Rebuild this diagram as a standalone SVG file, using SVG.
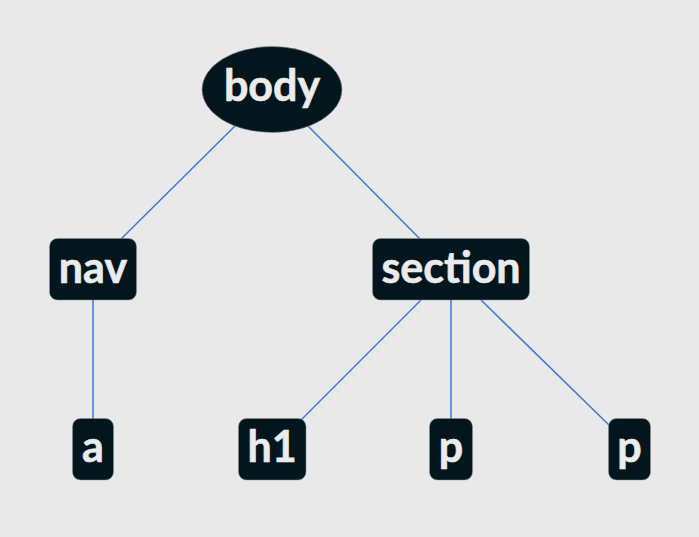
<svg xmlns="http://www.w3.org/2000/svg" width="699" height="537" viewBox="0 0 699 537">
<style>
.n{fill:#03161e;stroke:#8a9396;stroke-width:1;stroke-opacity:0.5}
.t{font-family:Lato,"Noto Sans",sans-serif;font-weight:bold;font-size:43px;fill:#ebebeb;stroke:#ebebeb;stroke-width:0.6;text-anchor:middle}
.e{stroke:#3a78e0;stroke-width:1.5;fill:none}
</style>
<rect width="699" height="537" fill="#e9e9e9"/>
<g id="edges">
<line class="e" x1="236" y1="125" x2="120" y2="240"/>
<line class="e" x1="307" y1="125" x2="421" y2="240"/>
<line class="e" x1="93" y1="300" x2="93" y2="419"/>
<line class="e" x1="421" y1="300" x2="300" y2="421"/>
<line class="e" x1="451" y1="300" x2="451" y2="419"/>
<line class="e" x1="481" y1="300" x2="611" y2="427"/>
</g>
<g id="body"><ellipse class="n" cx="272" cy="89.5" rx="70" ry="43"/><text class="t" x="272" y="101">body</text></g>
<g id="nav"><rect class="n" x="49.5" y="238.5" width="87" height="61.5" rx="8"/><text class="t" x="93" y="283">nav</text></g>
<g id="section"><rect class="n" x="372.5" y="238.5" width="157" height="61.5" rx="8"/><text class="t" x="451" y="283">section</text></g>
<g id="a"><rect class="n" x="72.5" y="418.5" width="41" height="61.5" rx="8"/><text class="t" x="93" y="462">a</text></g>
<g id="h1"><rect class="n" x="238.5" y="418.5" width="67.5" height="61.5" rx="8"/><text class="t" x="272" y="462">h1</text></g>
<g id="p1"><rect class="n" x="429.5" y="418.5" width="43" height="61.5" rx="8"/><text class="t" x="451" y="462">p</text></g>
<g id="p2"><rect class="n" x="608.5" y="418.5" width="42" height="61.5" rx="8"/><text class="t" x="629.5" y="462">p</text></g>
</svg>
